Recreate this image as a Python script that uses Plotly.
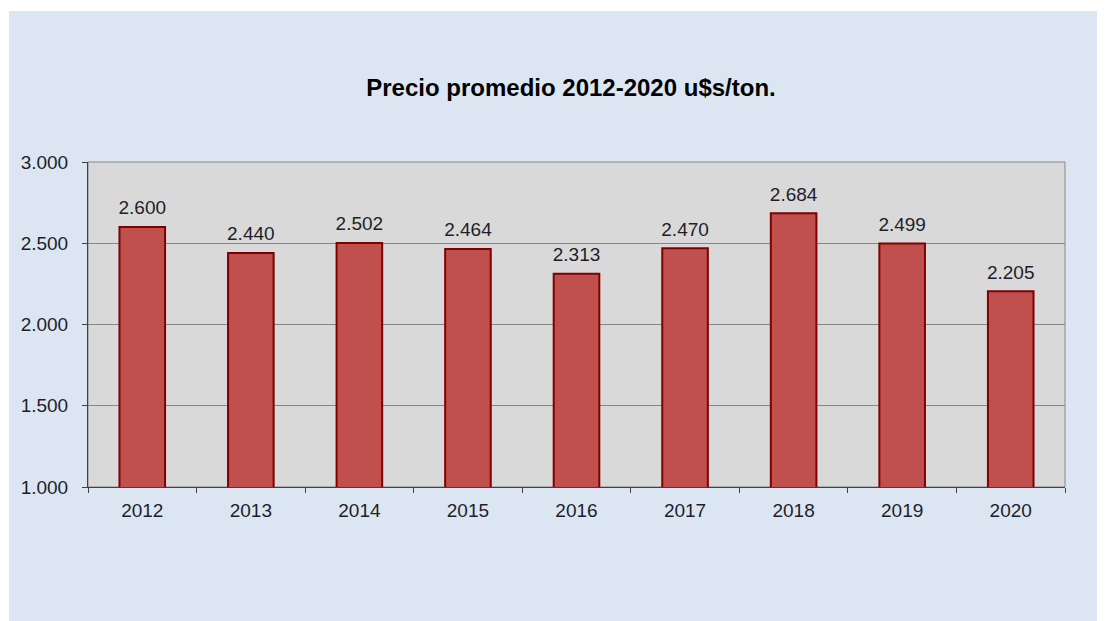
import plotly.graph_objects as go

# ── Data ────────────────────────────────────────────────
YEARS  = ["2012", "2013", "2014", "2015", "2016", "2017", "2018", "2019", "2020"]
PRICES = [2600, 2440, 2502, 2464, 2313, 2470, 2684, 2499, 2205]
Y_TICKS = [1000, 1500, 2000, 2500, 3000]

# ── Colours ─────────────────────────────────────────────
PANEL    = "#DCE6F2"
PLOTBG   = "#D9D9D9"
BAR      = "#C0504D"
BAR_EDGE = "#800000"
GRID     = "#868686"
AXIS     = "#404040"
TEXT     = "#1E1E2A"
FONT     = "Liberation Sans, Arial, sans-serif"

# page body adds an 8px margin, so the figure is a bit smaller than the window
W, H = 1097, 613
L, R, T, B = 80, 40, 154, 134
pw, ph = W - L - R, H - T - B


fig = go.Figure()
fig.add_trace(go.Bar(
    x = YEARS,
    y = PRICES,
    marker = dict(color=BAR, line=dict(color=BAR_EDGE, width=2)),
    hoverinfo = "x+y",
))

# value labels above the bars (invisible markers just push the text up)
fig.add_trace(go.Scatter(
    x = YEARS,
    y = PRICES,
    mode = "markers+text",
    marker = dict(size=11, color="rgba(0,0,0,0)"),
    text = [f"{v:,}".replace(",", ".") for v in PRICES],
    textposition = "top center",
    textfont = dict(family=FONT, size=19, color=TEXT),
    hoverinfo = "skip",
    cliponaxis = False,
))

# blue panel + gray plot area (drawn under the grid)
fig.add_shape(
    type = "rect", xref = "paper", yref = "paper", layer = "below",
    x0 = (1 - L) / pw, x1 = (W - L) / pw,
    y0 = -B / ph, y1 = (H - B - 3) / ph,
    fillcolor = PANEL, line = dict(width=0),
)
fig.add_shape(
    type = "rect", xref = "paper", yref = "paper", layer = "below",
    x0 = 0, x1 = 1, y0 = 0, y1 = 1,
    fillcolor = PLOTBG, line = dict(color=GRID, width=1),
)

fig.update_layout(
    width = W, height = H,
    paper_bgcolor = "white",
    plot_bgcolor  = "rgba(0,0,0,0)",
    separators = ",.",
    margin = dict(l=L, r=R, t=T, b=B, autoexpand=False),
    font = dict(family=FONT, size=19, color=TEXT),
    bargap = 0.58,
    showlegend = False,
    title = dict(
        text = "<b>Precio promedio 2012-2020 u$s/ton.</b>",
        font = dict(family=FONT, size=24, color="#000000"),
        x = (571 - 8) / W, xanchor = "center",
        y = 1 - (88 - 8) / H, yanchor = "middle", yref = "container",
    ),
    xaxis = dict(
        type = "category",
        range = [-0.5, len(YEARS) - 0.5],
        automargin = False,
        showgrid = False,
        showline = True, linecolor = AXIS, linewidth = 1,
        ticks = "outside", tickson = "boundaries", ticklen = 5,
        tickcolor = AXIS, tickfont = dict(size=19, color=TEXT),
        tickangle = 0,
        ticklabelstandoff = 6,
    ),
    yaxis = dict(
        range = [1000, 3000],
        automargin = False,
        tickvals = Y_TICKS, tickformat = ",d",
        showgrid = True, gridcolor = GRID, gridwidth = 1,
        zeroline = False,
        showline = True, linecolor = AXIS, linewidth = 1,
        ticks = "outside", ticklen = 5, tickcolor = AXIS,
        tickfont = dict(size=19, color=TEXT),
        ticklabelstandoff = 10,
    ),
)

fig.write_html("out.html")
